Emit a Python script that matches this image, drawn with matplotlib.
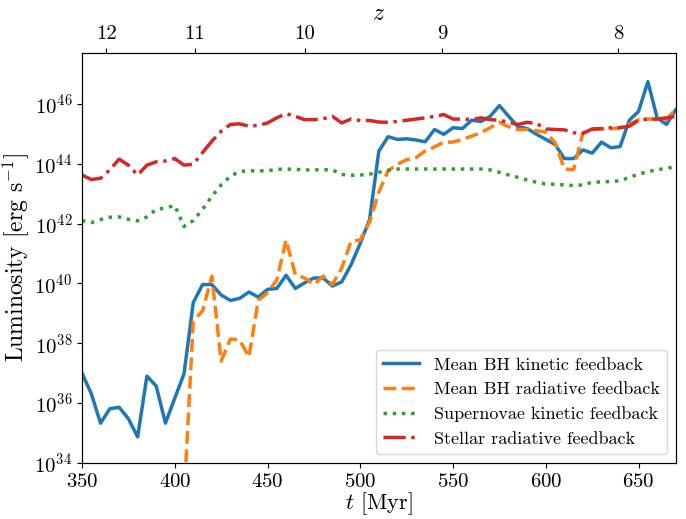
import numpy as np
import matplotlib
matplotlib.use('Agg')
import matplotlib.pyplot as plt

plt.rcParams['font.family'] = 'serif'
plt.rcParams['font.serif'] = ['cmr10']
plt.rcParams['mathtext.fontset'] = 'cm'
plt.rcParams['axes.formatter.use_mathtext'] = True

t = np.arange(350, 671, 5)

# log10 of luminosity [erg/s]
bh_kin = [37.0, 36.32, 35.33, 35.81, 35.86, 35.48, 34.87, 36.9, 36.57, 35.33,
          36.16, 36.98, 39.36, 39.96, 39.96, 39.61, 39.43, 39.5, 39.71, 39.54,
          39.8, 39.83, 40.27, 39.83, 40.02, 40.18, 40.18, 39.91, 40.05, 40.62,
          41.34, 42.13, 44.42, 44.9, 44.81, 44.83, 44.79, 44.73, 45.14, 44.98,
          45.2, 45.17, 45.45, 45.41, 45.58, 45.94, 45.58, 45.23, 45.17, 44.98,
          44.81, 44.64, 44.17, 44.17, 44.46, 44.35, 44.72, 44.53, 44.57, 45.45,
          45.75, 46.74, 45.53, 45.31, 45.8]
bh_rad = [np.nan] * 11 + [32.8, 38.75, 39.08, 40.24, 37.4, 38.14, 38.11, 37.54, 39.43,
          39.69, 40.11, 41.45, 40.29, 40.18, 39.96, 40.24, 39.96, 40.51, 41.4,
          41.45, 42.05, 43.05, 43.76, 43.98, 44.13, 44.2, 44.42, 44.56, 44.72,
          44.72, 44.81, 44.92, 45.03, 45.2, 45.38, 45.23, 45.14, 45.14, 45.1,
          45.05, 44.7, 43.82, 43.8, 45.03, 45.14, 45.16, 45.16, 45.2, 45.31,
          45.47, 45.49, 45.49, 45.47, 45.82]
sn_kin = [42.1, 42.03, 42.13, 42.21, 42.22, 42.14, 42.09, 42.22, 42.47, 42.52,
          42.6, 41.9, 42.1, 42.47, 42.91, 43.29, 43.58, 43.74, 43.76, 43.76,
          43.76, 43.81, 43.82, 43.81, 43.79, 43.79, 43.8, 43.79, 43.64, 43.61,
          43.62, 43.65, 43.71, 43.78, 43.82, 43.82, 43.82, 43.82, 43.82, 43.82,
          43.82, 43.82, 43.82, 43.82, 43.79, 43.71, 43.62, 43.54, 43.45, 43.38,
          43.32, 43.31, 43.29, 43.27, 43.29, 43.38, 43.39, 43.4, 43.43, 43.54,
          43.65, 43.73, 43.8, 43.84, 43.91]
star_rad = [43.62, 43.47, 43.51, 43.79, 44.15, 43.95, 43.62, 43.95, 44.06, 44.09,
            44.17, 43.95, 43.98, 44.37, 44.75, 45.08, 45.31, 45.33, 45.25, 45.28,
            45.36, 45.53, 45.67, 45.58, 45.47, 45.47, 45.5, 45.58, 45.36, 45.49,
            45.44, 45.44, 45.39, 45.38, 45.41, 45.45, 45.49, 45.53, 45.58, 45.64,
            45.49, 45.49, 45.47, 45.53, 45.47, 45.45, 45.38, 45.31, 45.38, 45.34,
            45.16, 45.14, 45.13, 45.03, 45.01, 45.16, 45.17, 45.2, 45.2, 45.25,
            45.45, 45.49, 45.49, 45.53, 45.58]

z_ticks = [12, 11, 10, 9, 8]
z_tick_t = [363, 410.8, 470, 544, 639]

fig = plt.figure(figsize=(6.86, 5.19), dpi=100)
ax = fig.add_axes([0.1195, 0.108, 0.8655, 0.79])

lw = 2.5
ax.plot(t, 10 ** np.array(bh_kin), '-', color='tab:blue', lw=lw, label='Mean BH kinetic feedback')
ax.plot(t, 10 ** np.array(bh_rad), '--', color='tab:orange', lw=lw, label='Mean BH radiative feedback')
ax.plot(t, 10 ** np.array(sn_kin), ':', color='tab:green', lw=lw, label='Supernovae kinetic feedback')
ax.plot(t, 10 ** np.array(star_rad), '-.', color='tab:red', lw=lw, label='Stellar radiative feedback')

ax.set_yscale('log')
ax.set_xlim(350, 670)
ax.set_ylim(1e34, 5e47)
ax.set_yticks([10.0 ** k for k in range(34, 47, 2)])
ax.yaxis.set_minor_locator(matplotlib.ticker.NullLocator())
ax.tick_params(labelsize=15)
ax.set_xlabel(r'$t$ [Myr]', fontsize=16, labelpad=0)
ax.set_ylabel(r'Luminosity [erg s$^{-1}$]', fontsize=17, labelpad=2)

ax2 = ax.twiny()
ax2.set_xlim(ax.get_xlim())
ax2.set_xticks(z_tick_t)
ax2.set_xticklabels([str(z) for z in z_ticks])
ax2.tick_params(labelsize=15)
ax2.set_xlabel(r'$z$', fontsize=17)

ax.legend(loc='lower right', fontsize=13, framealpha=0.8, handlelength=2.0)

fig.savefig('out.png', dpi=100)
